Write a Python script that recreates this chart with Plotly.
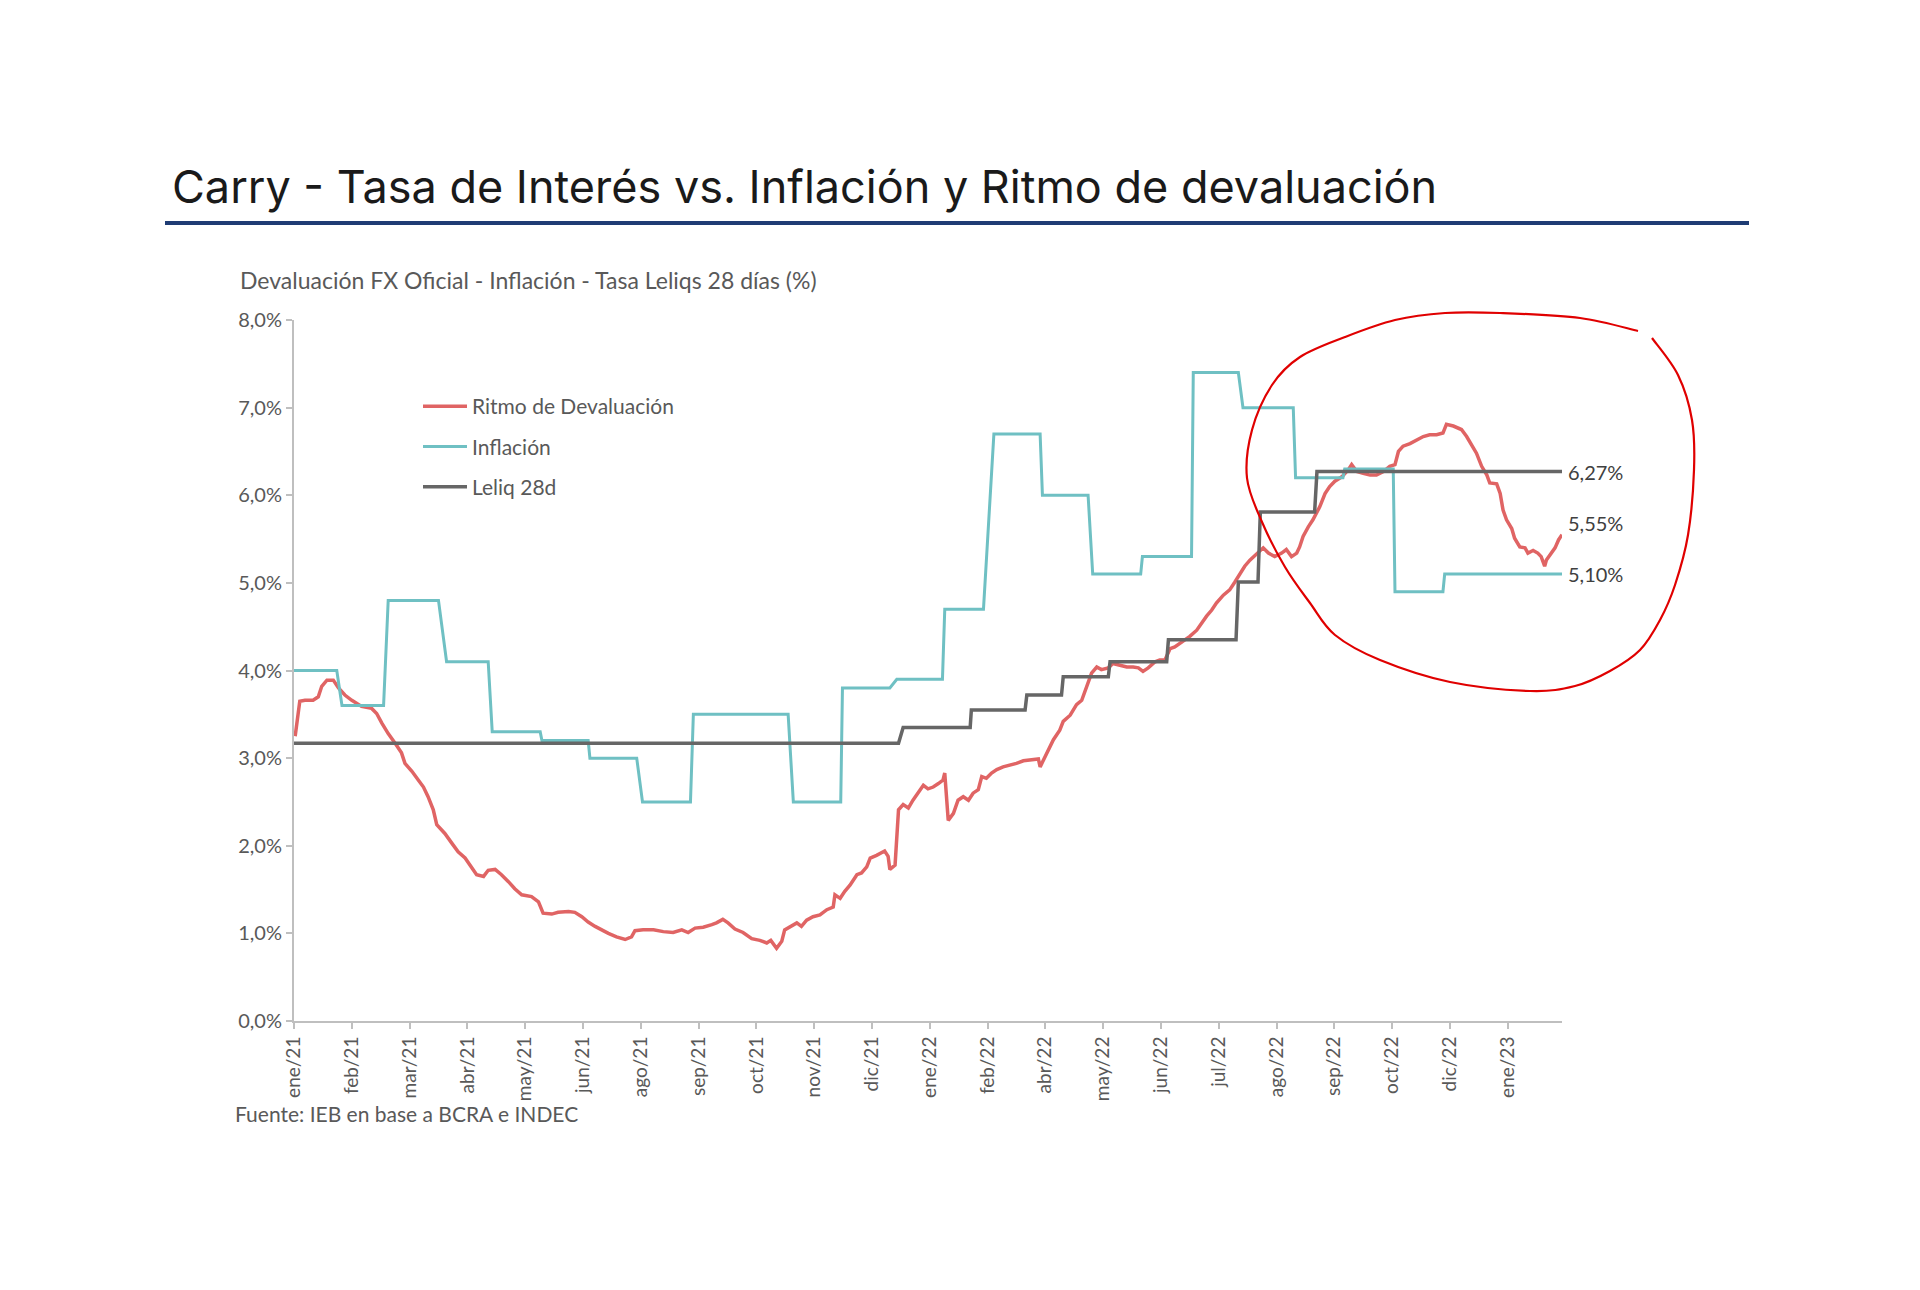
import plotly.graph_objects as go

# ---------------- data ----------------
tick_labels = ["ene/21", "feb/21", "mar/21", "abr/21", "may/21", "jun/21", "ago/21",
               "sep/21", "oct/21", "nov/21", "dic/21", "ene/22", "feb/22", "abr/22",
               "may/22", "jun/22", "jul/22", "ago/22", "sep/22", "oct/22", "dic/22", "ene/23"]
tick_positions = list(range(len(tick_labels)))

devaluacion_x = [0.02, 0.10, 0.19, 0.33, 0.42, 0.48, 0.57, 0.68, 0.77, 0.88, 1.00, 1.17, 1.34, 1.43,
                 1.52, 1.63, 1.75, 1.86, 1.92, 2.04, 2.15, 2.24, 2.32, 2.41, 2.47, 2.61, 2.73, 2.84,
                 2.96, 3.07, 3.16, 3.28, 3.36, 3.48, 3.59, 3.71, 3.82, 3.94, 4.11, 4.23, 4.31, 4.46,
                 4.57, 4.75, 4.86, 4.98, 5.09, 5.21, 5.32, 5.44, 5.58, 5.73, 5.84, 5.90, 6.04, 6.22,
                 6.39, 6.56, 6.71, 6.82, 6.94, 7.08, 7.23, 7.31, 7.42, 7.51, 7.63, 7.77, 7.92, 8.06,
                 8.18, 8.25, 8.35, 8.44, 8.49, 8.61, 8.70, 8.78, 8.87, 8.98, 9.10, 9.22, 9.33, 9.36,
                 9.45, 9.53, 9.62, 9.74, 9.82, 9.91, 9.97, 10.08, 10.22, 10.28, 10.31, 10.40, 10.46,
                 10.54, 10.63, 10.71, 10.80, 10.89, 10.97, 11.06, 11.15, 11.23, 11.26, 11.32, 11.41,
                 11.49, 11.58, 11.67, 11.75, 11.84, 11.90, 11.98, 12.07, 12.16, 12.27, 12.39, 12.50,
                 12.62, 12.76, 12.88, 12.91, 12.94, 13.02, 13.14, 13.25, 13.31, 13.43, 13.54, 13.63,
                 13.71, 13.80, 13.89, 13.97, 14.09, 14.17, 14.29, 14.41, 14.52, 14.61, 14.69, 14.78,
                 14.90, 14.98, 15.07, 15.16, 15.24, 15.33, 15.42, 15.50, 15.62, 15.70, 15.79, 15.88,
                 15.96, 16.08, 16.19, 16.28, 16.37, 16.45, 16.54, 16.66, 16.77, 16.86, 16.97, 17.09,
                 17.17, 17.26, 17.35, 17.40, 17.46, 17.55, 17.63, 17.75, 17.84, 17.92, 18.01, 18.13,
                 18.24, 18.30, 18.39, 18.50, 18.62, 18.73, 18.85, 18.96, 19.05, 19.11, 19.19, 19.31,
                 19.42, 19.54, 19.65, 19.77, 19.88, 19.94, 20.06, 20.20, 20.29, 20.38, 20.46, 20.55,
                 20.64, 20.69, 20.81, 20.87, 20.92, 20.98, 21.07, 21.12, 21.21, 21.30, 21.35, 21.44,
                 21.52, 21.58, 21.64, 21.67, 21.76, 21.82, 21.88, 21.94]
devaluacion_y = [3.25, 3.65, 3.66, 3.66, 3.70, 3.82, 3.89, 3.89, 3.80, 3.72, 3.66, 3.59, 3.57, 3.51,
                 3.40, 3.28, 3.17, 3.06, 2.94, 2.85, 2.75, 2.67, 2.56, 2.41, 2.24, 2.14, 2.03, 1.93,
                 1.86, 1.76, 1.67, 1.65, 1.72, 1.73, 1.67, 1.59, 1.51, 1.44, 1.42, 1.36, 1.23, 1.22,
                 1.24, 1.25, 1.24, 1.19, 1.13, 1.08, 1.04, 1.00, 0.96, 0.93, 0.96, 1.03, 1.04, 1.04,
                 1.02, 1.01, 1.04, 1.01, 1.06, 1.07, 1.10, 1.12, 1.16, 1.12, 1.05, 1.01, 0.94, 0.92,
                 0.89, 0.92, 0.83, 0.91, 1.04, 1.08, 1.12, 1.08, 1.15, 1.19, 1.21, 1.27, 1.30, 1.44,
                 1.40, 1.48, 1.55, 1.67, 1.69, 1.76, 1.86, 1.89, 1.94, 1.88, 1.73, 1.78, 2.41,
                 2.47, 2.43, 2.52, 2.60, 2.69, 2.65, 2.67, 2.71, 2.75, 2.83, 2.29, 2.37,
                 2.52, 2.56, 2.52, 2.60, 2.64, 2.79, 2.77, 2.83, 2.87, 2.90, 2.92, 2.94,
                 2.97, 2.98, 2.99, 2.90, 2.94, 3.06, 3.21, 3.32, 3.42, 3.49, 3.61, 3.66,
                 3.82, 3.97, 4.04, 4.01, 4.03, 4.08, 4.06, 4.04, 4.04, 4.03, 3.99, 4.03,
                 4.10, 4.12, 4.12, 4.25, 4.27, 4.31, 4.35, 4.39, 4.46, 4.54, 4.62, 4.69,
                 4.77, 4.86, 4.92, 5.01, 5.11, 5.19, 5.26, 5.34, 5.40, 5.34, 5.30, 5.34,
                 5.38, 5.30, 5.34, 5.41, 5.53, 5.64, 5.72, 5.87, 6.02, 6.10, 6.16, 6.21,
                 6.29, 6.35, 6.27, 6.25, 6.23, 6.23, 6.27, 6.33, 6.35, 6.50, 6.56, 6.59,
                 6.63, 6.67, 6.69, 6.69, 6.71, 6.81, 6.79, 6.75, 6.67, 6.56, 6.48, 6.33,
                 6.23, 6.14, 6.13, 6.02, 5.83, 5.72, 5.62, 5.51, 5.41, 5.40, 5.34, 5.37,
                 5.34, 5.30, 5.19, 5.26, 5.34, 5.40, 5.49, 5.55]

inflacion_x = [0.00, 0.74, 0.83, 1.55, 1.63, 2.50, 2.64, 3.36, 3.43, 4.26, 4.29, 5.09, 5.12, 5.93,
               6.03, 6.86, 6.91, 8.55, 8.64, 9.46, 9.49, 10.31, 10.43, 11.22, 11.26, 11.93, 12.11,
               12.91, 12.95, 13.74, 13.82, 14.65, 14.68, 15.53, 15.56, 16.34, 16.42, 17.29, 17.33,
               18.15, 18.18, 19.02, 19.05, 19.88, 19.91, 21.94]
inflacion_y = [4.0, 4.0, 3.6, 3.6, 4.8, 4.8, 4.1, 4.1, 3.3, 3.3, 3.2, 3.2, 3.0, 3.0,
               2.5, 2.5, 3.5, 3.5, 2.5, 2.5, 3.8, 3.8, 3.9, 3.9, 4.7, 4.7, 6.7,
               6.7, 6.0, 6.0, 5.1, 5.1, 5.3, 5.3, 7.4, 7.4, 7.0, 7.0, 6.2,
               6.2, 6.3, 6.3, 4.9, 4.9, 5.1, 5.1]

leliq_x = [0.00, 10.46, 10.54, 11.70, 11.72, 12.65, 12.68, 13.28, 13.31, 14.09, 14.12, 15.10,
           15.13, 16.30, 16.34, 16.68, 16.72, 17.66, 17.70, 21.94]
leliq_y = [3.17, 3.17, 3.35, 3.35, 3.55, 3.55, 3.72, 3.72, 3.93, 3.93, 4.10, 4.10,
           4.35, 4.35, 5.01, 5.01, 5.81, 5.81, 6.27, 6.27]

end_labels = ["6,27%", "5,55%", "5,10%"]

# ---------------- styling ----------------
FONT = "Lato"
TITLE_FONT = "Inter"
RED = "#E06464"
CYAN = "#6FC0C3"
GRAY = "#666666"
AXIS = "#BFBFBF"
TXT = "#595959"

W, H = 1920, 1290
OFF = 8                                   # page body margin
# plot area measured in screenshot pixels
SL, SR, ST, SB = 294, 1562, 320, 1021


def to_paper(px, py):
    return (px - SL) / (SR - SL), (SB - py) / (SB - ST)


fig = go.Figure()
fig.add_trace(go.Scatter(x=devaluacion_x, y=devaluacion_y, mode="lines", name="Ritmo de Devaluación",
                         line=dict(color=RED, width=3.5), legendgroup="a"))
fig.add_trace(go.Scatter(x=inflacion_x, y=inflacion_y, mode="lines", name="Inflación",
                         line=dict(color=CYAN, width=3), legendgroup="b"))
fig.add_trace(go.Scatter(x=leliq_x, y=leliq_y, mode="lines", name="Leliq 28d",
                         line=dict(color=GRAY, width=3.5), legendgroup="c"))

# end-of-series labels
end_vals = [leliq_y[-1], devaluacion_y[-1], inflacion_y[-1]]
end_shift = [0, 12, 0]
for lab, v, s in zip(end_labels, end_vals, end_shift):
    fig.add_annotation(x=leliq_x[-1], y=v, text=lab, showarrow=False, xanchor="left",
                       yanchor="middle", xshift=4, yshift=s,
                       font=dict(family=FONT, size=20, color="#404040"))

# subtitle
sx, sy = to_paper(238, 280)
fig.add_annotation(x=sx, y=sy, xref="paper", yref="paper", showarrow=False, xanchor="left",
                   yanchor="middle", text="Devaluación FX Oficial - Inflación - Tasa Leliqs 28 días (%)",
                   font=dict(family=FONT, size=23, color=TXT))
# source
fx, fy = to_paper(233, 1113)
fig.add_annotation(x=fx, y=fy, xref="paper", yref="paper", showarrow=False, xanchor="left",
                   yanchor="middle", text="Fuente: IEB en base a BCRA e INDEC",
                   font=dict(family=FONT, size=21, color=TXT))

# blue rule under the title
bx0, by = to_paper(165, 223)
bx1, _ = to_paper(1749, 223)
fig.add_shape(type="line", xref="paper", yref="paper", x0=bx0, x1=bx1, y0=by, y1=by,
              line=dict(color="#1F3C74", width=4))

# hand-drawn red circle (decoration)
circle_px = [(1638, 331), (1580, 318), (1500, 313), (1445, 313), (1395, 320), (1345, 337),
             (1300, 357), (1272, 385), (1252, 430), (1247, 478), (1262, 522), (1285, 567),
             (1310, 603), (1335, 635), (1380, 660), (1450, 682), (1530, 691), (1575, 686),
             (1610, 671), (1640, 650), (1660, 620), (1675, 585), (1688, 535), (1694, 470),
             (1692, 420), (1678, 375), (1652, 338)]
pts = [to_paper(*p) for p in circle_px]
path = "M{:.5f},{:.5f}".format(*pts[0])
n = len(pts)
for i in range(n - 1):
    p0 = pts[i - 1] if i > 0 else pts[i]
    p1 = pts[i]
    p2 = pts[i + 1]
    p3 = pts[i + 2] if i + 2 < n else pts[i + 1]
    c1 = (p1[0] + (p2[0] - p0[0]) / 6, p1[1] + (p2[1] - p0[1]) / 6)
    c2 = (p2[0] - (p3[0] - p1[0]) / 6, p2[1] - (p3[1] - p1[1]) / 6)
    path += " C{:.5f},{:.5f} {:.5f},{:.5f} {:.5f},{:.5f}".format(c1[0], c1[1], c2[0], c2[1], p2[0], p2[1])
fig.add_shape(type="path", xref="paper", yref="paper", path=path,
              line=dict(color="#E00000", width=2.2))

lx, ly = to_paper(418, 386)
fig.update_layout(
    width=W, height=H,
    margin=dict(l=SL - OFF, r=W - (SR - OFF), t=ST - OFF, b=H - (SB - OFF), pad=0),
    paper_bgcolor="white", plot_bgcolor="white",
    separators=",.",
    font=dict(family=FONT, size=20, color=TXT),
    title=dict(text="Carry - Tasa de Interés vs. Inflación y Ritmo de devaluación",
               x=(172 - OFF) / W, xanchor="left", y=1 - (187 - OFF) / H, yanchor="middle",
               xref="container", yref="container",
               font=dict(family=TITLE_FONT, size=45, color="#1A1A1A")),
    showlegend=True,
    legend=dict(x=lx, y=ly, xanchor="left", yanchor="top", bgcolor="rgba(0,0,0,0)",
                font=dict(family=FONT, size=21, color=TXT), tracegroupgap=10,
                traceorder="grouped", itemwidth=44),
    xaxis=dict(range=[0, 21.94], tickmode="array", tickvals=tick_positions, ticktext=tick_labels,
               tickangle=-90, showline=True, linecolor=AXIS, linewidth=2, ticks="outside",
               ticklen=6, tickcolor=AXIS, tickwidth=2, showgrid=False, zeroline=False,
               tickfont=dict(family=FONT, size=19, color=TXT)),
    yaxis=dict(range=[0, 8], tickmode="linear", tick0=0, dtick=1,
               tickformat=".1f", ticksuffix="%", showticksuffix="all", showline=True,
               linecolor=AXIS, linewidth=2,
               ticks="outside", ticklen=6, tickcolor=AXIS, tickwidth=2, showgrid=False,
               zeroline=False, tickfont=dict(family=FONT, size=20, color=TXT)),
)

fig.write_html("out.html")
